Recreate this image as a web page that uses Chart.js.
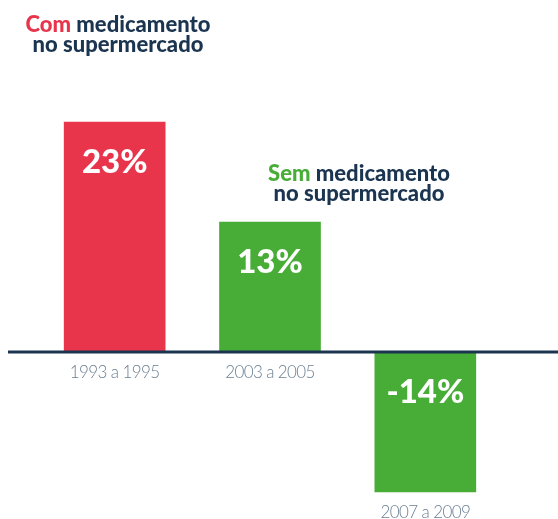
<!DOCTYPE html>
<html>
<head>
<meta charset="utf-8">
<script src="https://cdn.jsdelivr.net/npm/chart.js@4.4.1/dist/chart.umd.min.js"></script>
<style>
  html, body { margin: 0; padding: 0; background: #fff; }
  #wrap { width: 558px; height: 519px; position: relative; }
</style>
</head>
<body>
<div id="wrap"><canvas id="varChart"></canvas></div>
<script>
// Dados do grafico
const periodos = ['1993 a 1995', '2003 a 2005', '2007 a 2009'];
const variacao = [23, 13, -14];
const coresBarras = ['#E8354C', '#47AD36', '#47AD36'];

// Titulos: [palavra destacada, cor, resto da linha 1, linha 2]
const tituloCom = ['Com', '#E8354C', ' medicamento', 'no supermercado'];
const tituloSem = ['Sem', '#47AD36', ' medicamento', 'no supermercado'];

const navy = '#1B3551';
const cinza = '#6B7F92';

// Plugin para linha de base, valores, periodos e titulos
const textosPlugin = {
    id: 'textos',
    afterDatasetsDraw(chart) {
        const ctx = chart.ctx;
        const yScale = chart.scales.y;
        const zero = yScale.getPixelForValue(0);
        const bars = chart.getDatasetMeta(0).data;

        ctx.save();

        // linha de base
        ctx.fillStyle = navy;
        ctx.fillRect(8, zero - 1.5, chart.width - 8, 3);

        ctx.textAlign = 'center';
        ctx.textBaseline = 'middle';

        bars.forEach((bar, i) => {
            const v = variacao[i];
            const topo = Math.min(bar.y, bar.base);

            // valor dentro da barra
            ctx.fillStyle = '#fff';
            ctx.font = '900 33px Lato';
            ctx.letterSpacing = '0px';
            ctx.fillText(v + '%', bar.x, topo + 40);

            // periodo abaixo
            ctx.fillStyle = cinza;
            ctx.font = '300 17px Lato';
            ctx.letterSpacing = '-0.6px';
            const yLabel = v >= 0 ? zero + 21 : bar.y + 21;
            ctx.fillText(periodos[i], bar.x, yLabel);
        });
        ctx.letterSpacing = '0px';

        // titulos
        const desenhaTitulo = (t, cx, y1) => {
            ctx.font = '900 22px Lato';
            ctx.textAlign = 'left';
            ctx.textBaseline = 'alphabetic';
            const w1 = ctx.measureText(t[0]).width;
            const w2 = ctx.measureText(t[2]).width;
            let x = cx - (w1 + w2) / 2;
            ctx.fillStyle = t[1];
            ctx.fillText(t[0], x, y1);
            ctx.fillStyle = navy;
            ctx.fillText(t[2], x + w1, y1);
            ctx.textAlign = 'center';
            ctx.fillText(t[3], cx, y1 + 20);
        };
        desenhaTitulo(tituloCom, 118, 32);
        desenhaTitulo(tituloSem, 359, 181);

        ctx.restore();
    }
};

const ctx = document.getElementById('varChart').getContext('2d');
const varChart = new Chart(ctx, {
    type: 'bar',
    data: {
        labels: periodos,
        datasets: [{
            data: variacao,
            backgroundColor: coresBarras,
            borderWidth: 0,
            barThickness: 101
        }]
    },
    options: {
        responsive: true,
        maintainAspectRatio: false,
        animation: false,
        layout: {
            padding: { top: 52, bottom: 7, left: 37, right: 55 }
        },
        plugins: {
            legend: { display: false },
            tooltip: { enabled: false }
        },
        scales: {
            x: { display: false },
            y: { display: false, min: -16, max: 30 }
        }
    },
    plugins: [textosPlugin]
});
</script>
</body>
</html>
